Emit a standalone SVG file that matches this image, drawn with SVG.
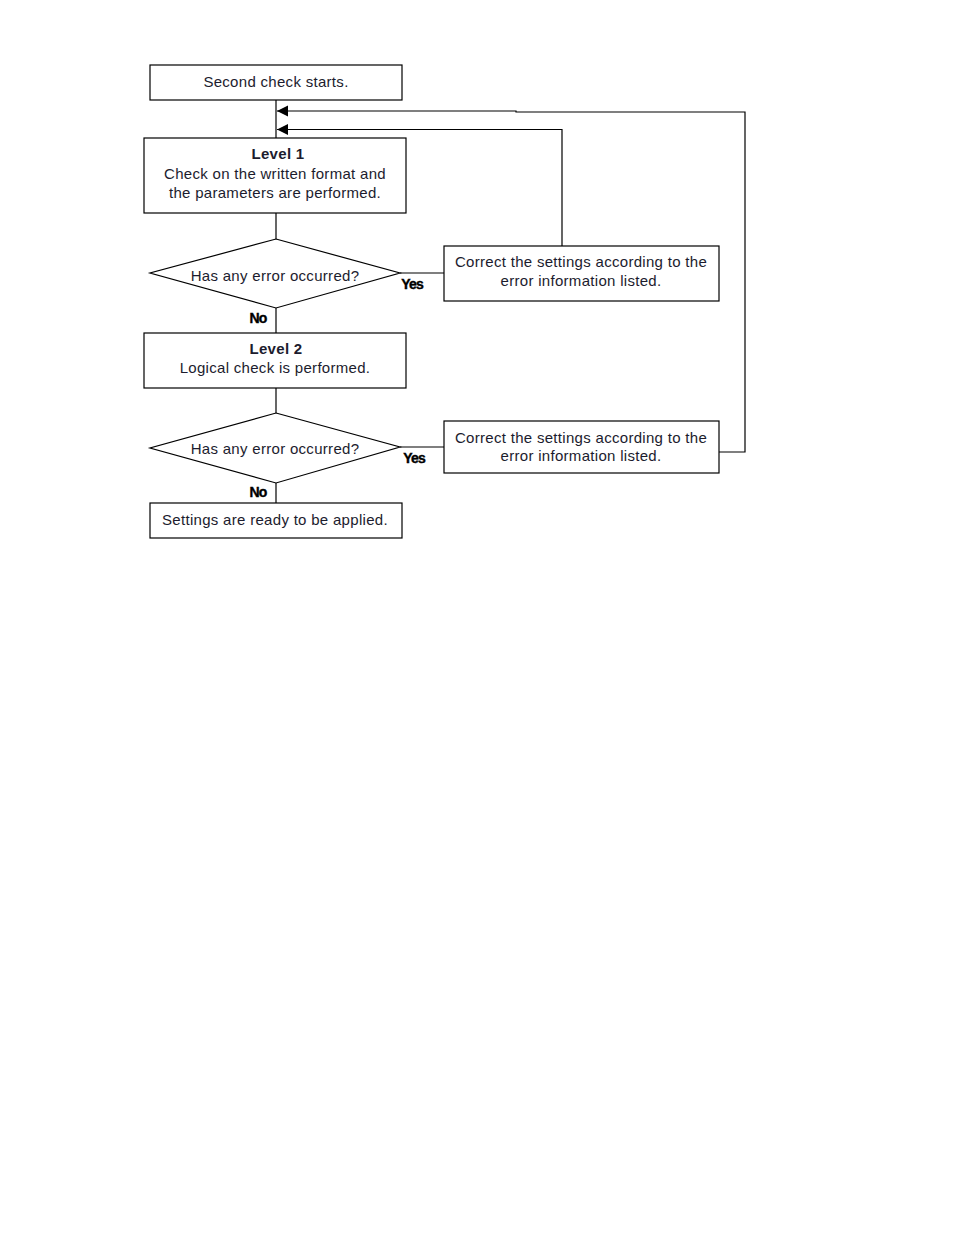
<svg xmlns="http://www.w3.org/2000/svg" width="954" height="1235" viewBox="0 0 954 1235">
<style>
.box{fill:#fff;stroke:#000;stroke-width:1.2}
.ln{fill:none;stroke:#000;stroke-width:1.2}
.t{font-family:"Liberation Sans",Arial,sans-serif;font-size:15px;fill:#1c1c2e;text-anchor:middle;letter-spacing:0.3px}
.b{font-weight:bold}
.yn{font-family:"Liberation Sans",Arial,sans-serif;font-size:14px;font-weight:bold;fill:#000;stroke:#000;stroke-width:0.4;letter-spacing:-0.8px;text-anchor:middle}
</style>
<defs>
<marker id="ah" markerWidth="12" markerHeight="12" refX="11" refY="5.5" orient="auto" markerUnits="userSpaceOnUse">
<path d="M0,0 L11,5.5 L0,11 Z" fill="#000"/>
</marker>
</defs>
<rect width="954" height="1235" fill="#fff"/>
<g id="connectors">
<line class="ln" x1="276" y1="100" x2="276" y2="138"/>
<line class="ln" x1="276" y1="213" x2="276" y2="239"/>
<line class="ln" x1="276" y1="308" x2="276" y2="333"/>
<line class="ln" x1="276" y1="388" x2="276" y2="413"/>
<line class="ln" x1="276" y1="483" x2="276" y2="503"/>
<line class="ln" x1="400" y1="273" x2="444" y2="273"/>
<line class="ln" x1="400" y1="447" x2="444" y2="447"/>
<polyline class="ln" points="562,246 562,129.5 277,129.5" marker-end="url(#ah)"/>
<polyline class="ln" points="719,452 745,452 745,112 516,112 516,111 277,111" marker-end="url(#ah)"/>
<text class="yn" x="412" y="289">Yes</text>
<text class="yn" x="414" y="463">Yes</text>
<text class="yn" x="258" y="323">No</text>
<text class="yn" x="258" y="497">No</text>
</g>
<g id="start">
<rect class="box" x="150" y="65" width="252" height="35"/>
<text class="t" x="276" y="87">Second check starts.</text>
</g>
<g id="level1">
<rect class="box" x="144" y="138" width="262" height="75"/>
<text class="t b" x="278" y="159">Level 1</text>
<text class="t" x="275" y="179">Check on the written format and</text>
<text class="t" x="275" y="198">the parameters are performed.</text>
</g>
<g id="decision1">
<polygon class="box" points="276,239 400,273 276,308 150,273"/>
<text class="t" x="275" y="281">Has any error occurred?</text>
</g>
<g id="correct1">
<rect class="box" x="444" y="246" width="275" height="55"/>
<text class="t" x="581" y="267">Correct the settings according to the</text>
<text class="t" x="581" y="286">error information listed.</text>
</g>
<g id="level2">
<rect class="box" x="144" y="333" width="262" height="55"/>
<text class="t b" x="276" y="354">Level 2</text>
<text class="t" x="275" y="373">Logical check is performed.</text>
</g>
<g id="decision2">
<polygon class="box" points="276,413 400,447 276,483 150,448"/>
<text class="t" x="275" y="454">Has any error occurred?</text>
</g>
<g id="correct2">
<rect class="box" x="444" y="421" width="275" height="52"/>
<text class="t" x="581" y="443">Correct the settings according to the</text>
<text class="t" x="581" y="461">error information listed.</text>
</g>
<g id="ready">
<rect class="box" x="150" y="503" width="252" height="35"/>
<text class="t" x="275" y="525">Settings are ready to be applied.</text>
</g>
</svg>
